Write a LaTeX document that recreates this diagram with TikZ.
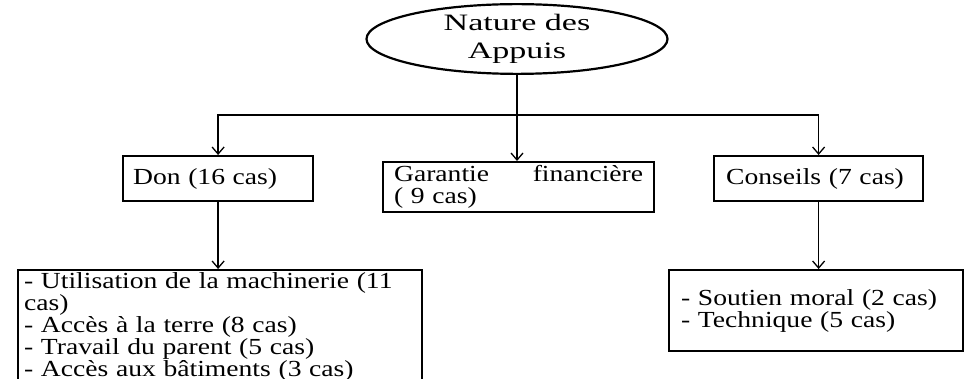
\documentclass[tikz,border=0pt]{standalone}
\usepackage{fontspec}
\setmainfont[FakeStretch=1.2]{Liberation Serif}
\newfontfamily\titrefont[FakeStretch=1.45]{Liberation Serif}
\usetikzlibrary{shapes.geometric,arrows.meta}
\tikzset{
  boite/.style={draw, line width=2.2pt, anchor=north west, align=left,
    font=\fontsize{23}{22}\selectfont},
  lien/.style={line width=1.3pt, -{Straight Barb[length=7pt,width=12pt]}},
}
\begin{document}
\begin{tikzpicture}[x=1pt,y=-1pt] % ------ Nature des appuis -----------------------------
    \clip (0,0) rectangle (964,379);
    \node[draw, ellipse, line width=2.2pt, minimum width=301pt, minimum height=68pt, inner sep=0pt,
      align=center, font=\titrefont\fontsize{23.5}{28}\selectfont] (appuis) at (517,39) {Nature des\\Appuis};
    \node[boite, minimum height=45pt, text width=170pt, inner xsep=10pt] (don) at (122,155) {Don (16 cas)};
    \node[boite, minimum height=49pt, text width=249pt, inner xsep=11pt] (garantie) at (382,161)
      {Garantie\hfill financière\\( 9 cas)};
    \node[boite, minimum height=45pt, text width=185pt, inner xsep=12pt] (conseils) at (713,155) {Conseils (7 cas)};
    \node[boite, text width=392pt, inner xsep=6pt, inner ysep=2pt] (donliste) at (17,269)
      {\makebox[392pt][s]{- Utilisation de la machinerie (11}\\cas)\\- Accès à la terre (8 cas)\\
       - Travail du parent (5 cas)\\- Accès aux bâtiments (3 cas)};
    \node[boite, minimum height=81pt, text width=270pt, inner xsep=12pt] (conseilsliste) at (668,269)
      {- Soutien moral (2 cas)\\- Technique (5 cas)};
    % liens
    \coordinate (bus) at (517,115);
    \draw[line width=1.3pt] (appuis.south) -- (bus);
    \draw[lien] (bus) -| (don.north);
    \draw[lien] (bus) -- (bus |- garantie.north);
    \draw[lien] (bus) -| (conseils.north);
    \draw[lien] (don.south) -- (don.south |- donliste.north);
    \draw[lien] (conseils.south) -- (conseils.south |- conseilsliste.north);
\end{tikzpicture}
\end{document}
